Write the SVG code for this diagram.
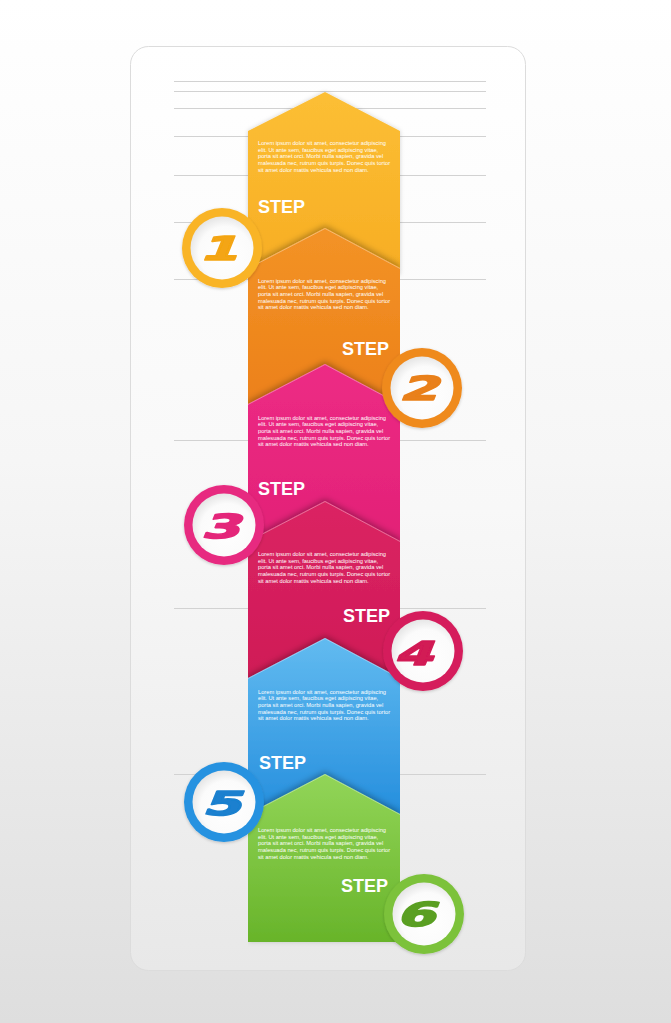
<svg xmlns="http://www.w3.org/2000/svg" xmlns:xlink="http://www.w3.org/1999/xlink" width="671" height="1023" viewBox="0 0 671 1023">
<defs>
<style>
.guide{stroke:#d2d2d2;stroke-width:1;fill:none}
.lorem{font-family:"Liberation Sans",Arial,sans-serif;font-size:5.7px;fill:#ffffff}
.step{font-family:"Liberation Sans",Arial,sans-serif;font-size:18px;font-weight:bold;fill:#ffffff}
.digit{font-family:"DejaVu Sans","Liberation Sans",sans-serif;font-size:33px;font-weight:bold;text-anchor:middle;stroke-width:1.6;stroke-linejoin:round}
.hl{fill:none;stroke:#ffffff;stroke-opacity:0.35;stroke-width:1}
.inner{fill:url(#gInner)}
</style>
<linearGradient id="gBg" x1="0" y1="0" x2="0" y2="1">
<stop offset="0" stop-color="#ffffff"/>
<stop offset="0.45" stop-color="#f6f6f6"/>
<stop offset="1" stop-color="#dedede"/>
</linearGradient>
<linearGradient id="gCard" x1="0" y1="0" x2="0" y2="1">
<stop offset="0" stop-color="#ffffff"/>
<stop offset="0.5" stop-color="#f8f8f8"/>
<stop offset="1" stop-color="#e8e8e8"/>
</linearGradient>
<linearGradient id="gY" x1="0" y1="0" x2="0" y2="1"><stop offset="0" stop-color="#fcbf35"/><stop offset="1" stop-color="#f7ad23"/></linearGradient>
<linearGradient id="gO" x1="0" y1="0" x2="0" y2="1"><stop offset="0" stop-color="#f39326"/><stop offset="1" stop-color="#ec8019"/></linearGradient>
<linearGradient id="gP" x1="0" y1="0" x2="0" y2="1"><stop offset="0" stop-color="#ed2b85"/><stop offset="1" stop-color="#e22176"/></linearGradient>
<linearGradient id="gC" x1="0" y1="0" x2="0" y2="1"><stop offset="0" stop-color="#db2463"/><stop offset="1" stop-color="#cf1a56"/></linearGradient>
<linearGradient id="gB" x1="0" y1="0" x2="0" y2="1"><stop offset="0" stop-color="#62bbf0"/><stop offset="1" stop-color="#238ddd"/></linearGradient>
<linearGradient id="gG" x1="0" y1="0" x2="0" y2="1"><stop offset="0" stop-color="#92d558"/><stop offset="1" stop-color="#68b42a"/></linearGradient>
<radialGradient id="gInner" cx="0.55" cy="0.58" r="0.6">
<stop offset="0" stop-color="#ffffff"/>
<stop offset="0.7" stop-color="#fbfbfb"/>
<stop offset="1" stop-color="#e4e4e4"/>
</radialGradient>
<filter id="fUp" x="-20%" y="-20%" width="140%" height="140%">
<feGaussianBlur in="SourceAlpha" stdDeviation="3"/>
<feOffset dy="-2" result="b"/>
<feFlood flood-color="#000000" flood-opacity="0.32"/>
<feComposite in2="b" operator="in"/>
<feMerge><feMergeNode/><feMergeNode in="SourceGraphic"/></feMerge>
</filter>
<filter id="fSoft" x="-20%" y="-20%" width="140%" height="140%">
<feGaussianBlur in="SourceAlpha" stdDeviation="2"/>
<feOffset dy="0" result="b"/>
<feFlood flood-color="#000000" flood-opacity="0.18"/>
<feComposite in2="b" operator="in"/>
<feMerge><feMergeNode/><feMergeNode in="SourceGraphic"/></feMerge>
</filter>
<filter id="fBadge" x="-30%" y="-30%" width="160%" height="160%">
<feGaussianBlur in="SourceAlpha" stdDeviation="1.5"/>
<feOffset dy="1" result="b"/>
<feFlood flood-color="#000000" flood-opacity="0.2"/>
<feComposite in2="b" operator="in"/>
<feMerge><feMergeNode/><feMergeNode in="SourceGraphic"/></feMerge>
</filter>
<clipPath id="colClip"><rect x="248" y="0" width="152" height="1023"/></clipPath>
<g id="lorem">
<text class="lorem" x="0" y="0">Lorem ipsum dolor sit amet, consectetur adipiscing</text>
<text class="lorem" x="0" y="6.7">elit. Ut ante sem, faucibus eget adipiscing vitae,</text>
<text class="lorem" x="0" y="13.4">porta sit amet orci. Morbi nulla sapien, gravida vel</text>
<text class="lorem" x="0" y="20.1">malesuada nec, rutrum quis turpis. Donec quis tortor</text>
<text class="lorem" x="0" y="26.8">sit amet dolor mattis vehicula sed non diam.</text>
</g>
</defs>

<g id="background">
<rect x="0" y="0" width="671" height="1023" fill="url(#gBg)"/>
<rect x="130.5" y="46.5" width="395" height="924" rx="18" fill="url(#gCard)" stroke="#dcdcdc" stroke-width="1"/>
<g id="guides">
<line class="guide" x1="174" y1="81.5" x2="486" y2="81.5"/>
<line class="guide" x1="174" y1="91.5" x2="486" y2="91.5"/>
<line class="guide" x1="174" y1="108.5" x2="486" y2="108.5"/>
<line class="guide" x1="174" y1="136.5" x2="486" y2="136.5"/>
<line class="guide" x1="174" y1="175.5" x2="486" y2="175.5"/>
<line class="guide" x1="174" y1="222.5" x2="486" y2="222.5"/>
<line class="guide" x1="174" y1="279.5" x2="486" y2="279.5"/>
<line class="guide" x1="174" y1="440.5" x2="486" y2="440.5"/>
<line class="guide" x1="174" y1="608.5" x2="486" y2="608.5"/>
<line class="guide" x1="174" y1="774.5" x2="486" y2="774.5"/>
</g>
</g>

<g id="step-1" filter="url(#fSoft)">
<path d="M248,131 L325,92 L400,131 L400,275 L248,275 Z" fill="url(#gY)"/>
</g>
<g id="step-1-text">
<use xlink:href="#lorem" x="258" y="145"/>
<text class="step" x="258" y="213">STEP</text>
</g>

<g id="steps-stack" clip-path="url(#colClip)">
<g id="step-2" filter="url(#fUp)">
<path d="M248,268 L325,228 L400,268 L400,410 L248,410 Z" fill="url(#gO)"/>
<polyline class="hl" points="248,268.5 325,228.5 400,268.5"/>
</g>
<g id="step-3" filter="url(#fUp)">
<path d="M248,404 L325,364 L400,404 L400,547 L248,547 Z" fill="url(#gP)"/>
<polyline class="hl" points="248,404.5 325,364.5 400,404.5"/>
</g>
<g id="step-4" filter="url(#fUp)">
<path d="M248,541 L325,501 L400,541 L400,684 L248,684 Z" fill="url(#gC)"/>
<polyline class="hl" points="248,541.5 325,501.5 400,541.5"/>
</g>
<g id="step-5" filter="url(#fUp)">
<path d="M248,678 L325,638 L400,678 L400,820 L248,820 Z" fill="url(#gB)"/>
<polyline class="hl" points="248,678.5 325,638.5 400,678.5"/>
</g>
<g id="step-6" filter="url(#fUp)">
<path d="M248,814 L325,774 L400,814 L400,942 L248,942 Z" fill="url(#gG)"/>
<polyline class="hl" points="248,814.5 325,774.5 400,814.5"/>
</g>
</g>

<g id="step-texts">
<g id="step-2-text">
<use xlink:href="#lorem" x="258" y="282.5"/>
<text class="step" x="389" y="355" text-anchor="end">STEP</text>
</g>
<g id="step-3-text">
<use xlink:href="#lorem" x="258" y="419.5"/>
<text class="step" x="258" y="495">STEP</text>
</g>
<g id="step-4-text">
<use xlink:href="#lorem" x="258" y="556"/>
<text class="step" x="390" y="622" text-anchor="end">STEP</text>
</g>
<g id="step-5-text">
<use xlink:href="#lorem" x="258" y="693.5"/>
<text class="step" x="259" y="769">STEP</text>
</g>
<g id="step-6-text">
<use xlink:href="#lorem" x="258" y="832"/>
<text class="step" x="388" y="892" text-anchor="end">STEP</text>
</g>
</g>

<g id="badge-1" filter="url(#fBadge)">
<circle cx="222" cy="248" r="40" fill="#f9b428"/>
<circle class="inner" cx="222" cy="248" r="31.5"/>
<text class="digit" fill="#f4a512" stroke="#f4a512" transform="translate(223,248) skewX(-22) scale(1.7,1)" y="12">1</text>
</g>
<g id="badge-2" filter="url(#fBadge)">
<circle cx="422" cy="388" r="40" fill="#ef8a1e"/>
<circle class="inner" cx="422" cy="388" r="31.5"/>
<text class="digit" fill="#e9801a" stroke="#e9801a" transform="translate(423,388) skewX(-22) scale(1.7,1)" y="12">2</text>
</g>
<g id="badge-3" filter="url(#fBadge)">
<circle cx="224" cy="525" r="40" fill="#e72b80"/>
<circle class="inner" cx="224" cy="525" r="31.5"/>
<text class="digit" fill="#e4267a" stroke="#e4267a" transform="translate(225,526) skewX(-22) scale(1.7,1)" y="12">3</text>
</g>
<g id="badge-4" filter="url(#fBadge)">
<circle cx="423" cy="651" r="40" fill="#d51e5c"/>
<circle class="inner" cx="423" cy="651" r="31.5"/>
<text class="digit" fill="#d21a55" stroke="#d21a55" transform="translate(418,653) skewX(-22) scale(1.7,1)" y="12">4</text>
</g>
<g id="badge-5" filter="url(#fBadge)">
<circle cx="224" cy="802" r="40" fill="#2692e0"/>
<circle class="inner" cx="224" cy="802" r="31.5"/>
<text class="digit" fill="#1a80cf" stroke="#1a80cf" transform="translate(226,803) skewX(-22) scale(1.7,1)" y="12">5</text>
</g>
<g id="badge-6" filter="url(#fBadge)">
<circle cx="424" cy="914" r="40" fill="#7cc23a"/>
<circle class="inner" cx="424" cy="914" r="31.5"/>
<text class="digit" fill="#5a9f24" stroke="#5a9f24" transform="translate(420,914) skewX(-22) scale(1.7,1)" y="12">6</text>
</g>
</svg>
